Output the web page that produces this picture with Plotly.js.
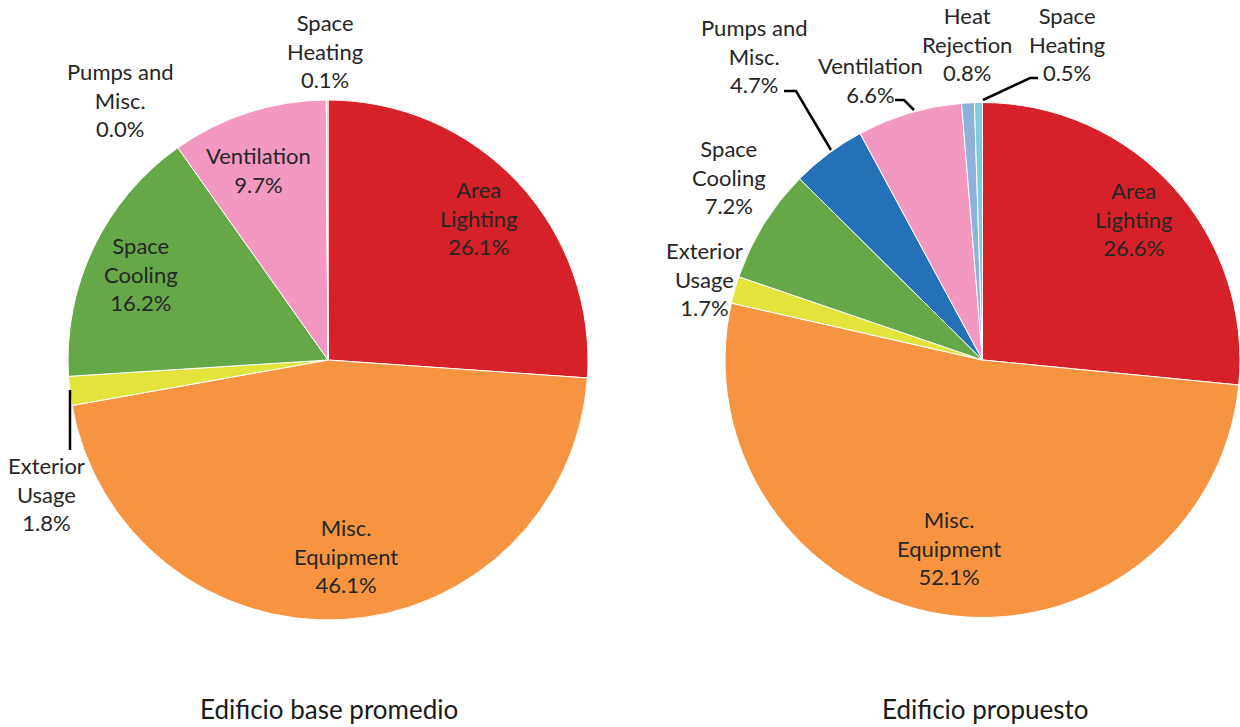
<!DOCTYPE html>
<html>
<head>
<meta charset="utf-8">
<script src="https://cdn.plot.ly/plotly-3.0.1.min.js"></script>
<style>html,body{margin:0;padding:0;background:#fff;}#chart{width:1240px;height:727px;}</style>
</head>
<body>
<div id="chart"></div>
<script>
// ---- data ----
const baseLabels = ['Area<br>Lighting', 'Misc.<br>Equipment', 'Exterior<br>Usage', 'Space<br>Cooling', 'Ventilation', 'Pumps and<br>Misc.', 'Space<br>Heating'];
const baseValues = [26.1, 46.1, 1.8, 16.2, 9.7, 0.0, 0.1];
const baseColors = ['#D62128', '#F79441', '#E2E43C', '#66A847', '#F398C1', '#2471B8', '#7FCBE2'];

const propLabels = ['Area<br>Lighting', 'Misc.<br>Equipment', 'Exterior<br>Usage', 'Space<br>Cooling', 'Pumps and<br>Misc.', 'Ventilation', 'Heat<br>Rejection', 'Space<br>Heating'];
const propValues = [26.6, 52.1, 1.7, 7.2, 4.7, 6.6, 0.8, 0.5];
const propColors = ['#D62128', '#F79441', '#E2E43C', '#66A847', '#2471B8', '#F398C1', '#8FB2DB', '#7FCBE2'];

const chartTitles = ['Edificio base promedio', 'Edificio propuesto'];

// ---- label placement (pixel centres of each text block) ----
const basePos = [[478, 218], [346, 556], [46, 494], [141, 274], [258, 170], [120, 100], [325, 51]];
const propPos = [[1133, 219], [949, 548], [704, 279], [729, 177], [754, 56], [870, 80], [967, 44], [1067, 44]];

const W = 1240, H = 727;
const px = x => x / W;
const py = y => 1 - y / H;
const FONT = 'Lato, "Open Sans", sans-serif';
const TXT = '#262626';

function pieTrace(labels, values, colors, xd, yd) {
  return {
    type: 'pie',
    labels: labels.map(l => l.replace(/<br>/g, ' ')),
    values: values,
    sort: false,
    direction: 'clockwise',
    rotation: 0,
    textinfo: 'none',
    hoverinfo: 'label+percent',
    marker: {colors: colors, line: {color: '#ffffff', width: 1}},
    domain: {x: xd, y: yd},
    showlegend: false
  };
}

const traces = [
  pieTrace(baseLabels, baseValues, baseColors, [px(68), px(588)], [py(620), py(100)]),
  pieTrace(propLabels, propValues, propColors, [px(725), 1], [py(620), py(100)])
];

const annotations = [];
function addLabels(labels, values, pos) {
  labels.forEach((l, i) => {
    annotations.push({
      xref: 'paper', yref: 'paper',
      x: px(pos[i][0]), y: py(pos[i][1]),
      xanchor: 'center', yanchor: 'middle',
      text: l + '<br>' + values[i].toFixed(1) + '%',
      showarrow: false,
      font: {family: FONT, size: 22, color: TXT}
    });
  });
}
addLabels(baseLabels, baseValues, basePos);
addLabels(propLabels, propValues, propPos);

[[329, 709], [985, 709]].forEach((p, i) => {
  annotations.push({
    xref: 'paper', yref: 'paper', x: px(p[0]), y: py(p[1]),
    xanchor: 'center', yanchor: 'middle', showarrow: false,
    text: chartTitles[i], font: {family: FONT, size: 26, color: '#1a1a1a'}
  });
});

// leader lines (pixel paths converted to paper)
const leaders = [
  [[70, 390], [70, 450]],
  [[784, 91], [796, 91], [831, 150]],
  [[895, 100], [904, 100], [914, 110]],
  [[1038, 78], [1030, 78], [983, 100]]
];
const shapes = leaders.map(pts => ({
  type: 'path', xref: 'paper', yref: 'paper',
  path: pts.map((p, i) => (i ? 'L' : 'M') + px(p[0]) + ',' + py(p[1])).join(' '),
  line: {color: '#000000', width: 2.5}
}));

const layout = {
  width: W, height: H,
  margin: {l: 0, r: 0, t: 0, b: 0},
  paper_bgcolor: '#ffffff',
  font: {family: FONT, color: TXT},
  annotations: annotations,
  shapes: shapes,
  showlegend: false
};

Plotly.newPlot('chart', traces, layout, {displayModeBar: false, staticPlot: true});
</script>
</body>
</html>
